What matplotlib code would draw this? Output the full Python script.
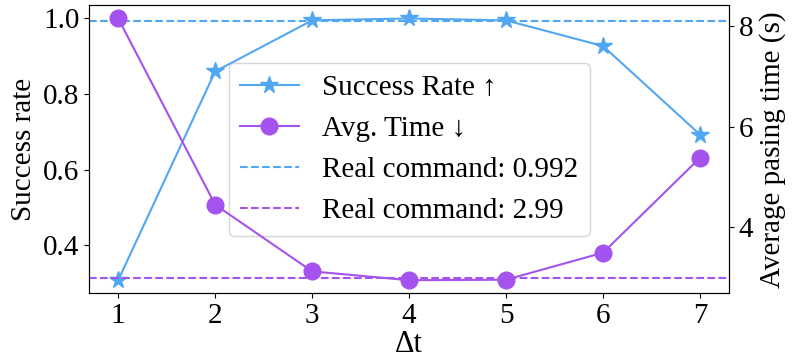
import matplotlib
matplotlib.use("Agg")
import matplotlib.pyplot as plt

plt.rcParams['font.family'] = ['Liberation Serif', 'DejaVu Serif']
plt.rcParams['mathtext.fontset'] = 'stix'

dt = [1, 2, 3, 4, 5, 6, 7]
success_rate = [0.308, 0.86, 0.995, 1.0, 0.995, 0.927, 0.693]
avg_time = [8.14, 4.45, 3.13, 2.955, 2.965, 3.50, 5.38]
real_success = 0.992
real_time = 2.99

blue = '#52a7f2'
purple = '#a453ee'

fig = plt.figure(figsize=(8.03, 3.59), dpi=100)
ax = fig.add_axes([0.111, 0.183, 0.797, 0.802])
ax2 = ax.twinx()

l1, = ax.plot(dt, success_rate, color=blue, marker='*', markersize=13, lw=1.5, label='Success Rate ↑')
l3 = ax.axhline(real_success, color=blue, ls='--', lw=1.5, label='Real command: 0.992')
l2, = ax2.plot(dt, avg_time, color=purple, marker='o', markersize=12, lw=1.5, label='Avg. Time ↓')
l4 = ax2.axhline(real_time, color=purple, ls='--', lw=1.5, label='Real command: 2.99')

ax.set_xticks(dt)
ax.set_yticks([0.4, 0.6, 0.8, 1.0])
ax2.set_yticks([4, 6, 8])
ax.tick_params(labelsize=21)
ax2.tick_params(labelsize=21)
ax.set_xlabel('Δt', fontsize=22, labelpad=1)
ax.set_ylabel('Success rate', fontsize=21)
ax2.set_ylabel('Average pasing time (s)', fontsize=21)

ax.legend([l1, l2, l3, l4], [h.get_label() for h in [l1, l2, l3, l4]],
          loc='center', fontsize=21)

fig.savefig('out.png', dpi=100)
